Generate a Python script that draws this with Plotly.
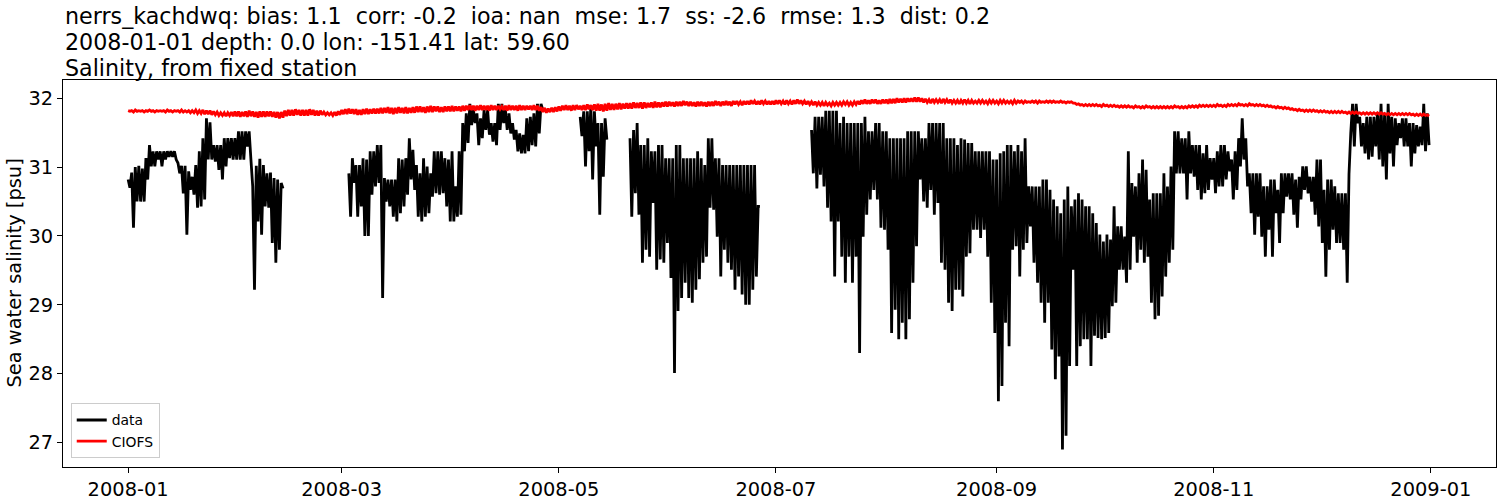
import pandas as pd
import plotly.graph_objects as go

N = None
title_lines = [
    "nerrs_kachdwq: bias: 1.1  corr: -0.2  ioa: nan  mse: 1.7  ss: -2.6  rmse: 1.3  dist: 0.2",
    "2008-01-01 depth: 0.0 lon: -151.41 lat: 59.60",
    "Salinity, from fixed station",
]
y_label = "Sea water salinity [psu]"
series_names = ["data", "CIOFS"]
start_date = "2008-01-01"
x_ticks = ["2008-01-01", "2008-03-01", "2008-05-01", "2008-07-01", "2008-09-01", "2008-11-01", "2009-01-01"]
y_ticks = [27, 28, 29, 30, 31, 32]

# observed salinity: daily first / second reading (None = no data)
data_hi = [
    30.82, 30.92, 31.00, 31.02, 30.98, 31.13, 31.32, 31.23, 31.23, 31.23,
    31.23, 31.23, 31.23, 31.23, 31.06, 31.02, 31.02, 30.94, 30.86, 31.03,
    31.23, 31.42, 31.71, 31.65, 31.32, 31.32, 31.32, 31.42, 31.42, 31.42,
    31.42, 31.52, 31.52, 31.52, 31.52, 30.72, 31.02, 31.12, 31.03, 30.91,
    30.92, 30.84, 30.82, 30.77, N, N, N, N, N, N,
    N, N, N, N, N, N, N, N, N, N,
    N, N, 30.91, 31.13, 31.03, 31.03, 31.13, 31.11, 31.23, 31.23,
    31.32, 31.32, 30.84, 30.82, 30.82, 30.82, 31.13, 31.11, 31.13, 31.42,
    31.25, 31.03, 30.91, 31.13, 31.01, 30.91, 31.23, 31.23, 31.23, 31.13,
    31.11, 31.23, 30.72, 31.23, 31.64, 31.78, 31.92, 31.83, 31.78, 31.71,
    31.83, 31.83, 31.64, 31.64, 31.92, 31.92, 31.83, 31.78, 31.64, 31.54,
    31.49, 31.47, 31.71, 31.73, 31.78, 31.92, 31.92, N, N, N,
    N, N, N, N, N, N, N, 31.73, 31.81, 31.81,
    31.90, 31.81, 31.64, 31.64, 31.71, N, N, N, N, N,
    N, 31.42, 31.54, 31.64, 31.32, 31.32, 31.42, 31.23, 31.23, 31.32,
    31.32, 31.13, 31.13, 31.13, 31.32, 31.32, 31.13, 31.13, 31.13, 31.13,
    31.23, 31.13, 31.03, 31.42, 31.42, 31.13, 31.13, 31.03, 31.03, 31.03,
    31.03, 31.03, 31.03, 31.03, 31.03, 31.03, 31.03, 30.43, N, N,
    N, N, N, N, N, N, N, N, N, N,
    N, N, 31.54, 31.73, 31.73, 31.73, 31.82, 31.82, 31.82, 31.82,
    31.64, 31.73, 31.64, 31.64, 31.64, 31.64, 31.64, 31.73, 31.52, 31.52,
    31.64, 31.64, 31.52, 31.52, 31.42, 31.42, 31.42, 31.42, 31.42, 31.52,
    31.52, 31.52, 31.52, 31.42, 31.42, 31.64, 31.64, 31.64, 31.64, 31.64,
    31.42, 31.42, 31.42, 31.32, 31.42, 31.40, 31.35, 31.35, 31.23, 31.23,
    31.23, 31.23, 31.23, 31.11, 31.11, 31.20, 31.23, 31.32, 31.32, 31.23,
    31.32, 31.23, 31.42, 30.72, 30.72, 30.72, 30.72, 30.82, 30.82, 30.67,
    30.53, 30.43, 30.33, 30.53, 30.72, 30.43, 30.53, 30.62, 30.53, 30.43,
    30.43, 30.33, 30.19, 30.02, 29.92, 30.02, 29.95, 30.43, 30.14, 30.14,
    29.99, 31.23, 30.77, 30.72, 30.91, 31.11, 30.96, 30.53, 30.62, 30.62,
    30.62, 30.91, 30.72, 31.01, 31.52, 31.52, 31.42, 31.42, 31.52, 31.32,
    31.32, 31.32, 31.20, 31.32, 31.13, 31.13, 31.23, 31.32, 31.32, 31.23,
    31.11, 31.23, 31.42, 31.71, 31.42, 30.91, 30.91, 30.91, 30.91, 30.72,
    30.72, 30.82, 30.82, 30.67, 30.91, 30.91, 30.91, 30.91, 30.82, 30.86,
    31.01, 31.01, 30.86, 30.86, 31.11, 31.11, 30.67, 30.82, 30.82, 30.72,
    30.62, 30.62, 30.62, 30.90, 31.92, 31.92, 31.73, 31.64, 31.73, 31.73,
    31.73, 31.78, 31.92, 31.78, 31.92, 31.73, 31.71, 31.64, 31.71, 31.71,
    31.64, 31.64, 31.61, 31.59, 31.92, 31.78,
]
data_lo = [
    30.70, 30.12, 30.50, 30.50, 30.50, 30.82, 31.01, 31.01, 31.11, 31.01,
    31.11, 31.15, 31.15, 31.11, 30.91, 30.62, 30.02, 30.67, 30.60, 30.41,
    30.43, 30.53, 31.11, 31.11, 31.08, 30.96, 30.82, 31.01, 31.13, 31.11,
    31.11, 31.11, 31.11, 31.30, 31.11, 29.22, 30.21, 30.02, 30.43, 30.41,
    29.90, 29.61, 29.80, 30.69, N, N, N, N, N, N,
    N, N, N, N, N, N, N, N, N, N,
    N, N, 30.28, 30.77, 30.28, 30.43, 30.00, 30.00, 30.60, 30.72,
    30.77, 29.10, 30.50, 30.43, 30.28, 30.21, 30.33, 30.43, 30.60, 30.82,
    30.67, 30.28, 30.21, 30.28, 30.33, 30.57, 30.62, 30.60, 30.62, 30.43,
    30.21, 30.21, 30.28, 30.31, 31.23, 31.35, 31.61, 31.64, 31.32, 31.42,
    31.54, 31.47, 31.37, 31.32, 31.54, 31.64, 31.54, 31.49, 31.40, 31.23,
    31.20, 31.20, 31.23, 31.32, 31.30, 31.49, 31.83, N, N, N,
    N, N, N, N, N, N, N, 31.45, 31.01, 31.23,
    30.82, 31.30, 30.31, 30.86, 31.40, N, N, N, N, N,
    N, 30.28, 30.62, 30.31, 29.61, 29.80, 29.70, 30.48, 29.51, 29.66,
    29.61, 29.90, 29.39, 28.01, 28.91, 29.10, 29.32, 29.10, 29.03, 29.22,
    29.37, 29.61, 29.70, 30.41, 30.38, 29.99, 29.41, 29.80, 29.61, 29.51,
    29.22, 29.41, 29.15, 29.00, 29.00, 29.22, 29.41, 30.43, N, N,
    N, N, N, N, N, N, N, N, N, N,
    N, N, 30.91, 30.69, 30.89, 30.72, 30.41, 30.21, 29.41, 30.21,
    29.70, 29.32, 29.70, 29.32, 29.70, 28.30, 29.99, 30.31, 30.53, 30.67,
    30.53, 30.12, 30.09, 29.80, 28.59, 28.93, 28.50, 28.74, 28.50, 28.79,
    29.32, 29.85, 30.82, 30.50, 30.41, 30.67, 30.31, 30.48, 29.61, 29.51,
    29.03, 28.91, 29.22, 29.22, 29.12, 29.70, 29.75, 30.09, 30.09, 29.97,
    30.09, 29.70, 29.03, 28.59, 27.60, 27.82, 28.74, 28.40, 29.80, 29.85,
    29.41, 29.80, 29.90, 30.14, 29.61, 29.32, 29.03, 28.74, 29.03, 28.35,
    27.92, 28.25, 26.90, 27.10, 28.11, 29.51, 28.11, 28.40, 28.50, 28.50,
    28.11, 28.55, 28.52, 28.50, 28.52, 28.59, 28.98, 29.03, 29.51, 29.51,
    29.32, 29.51, 29.99, 29.61, 29.80, 29.61, 29.70, 29.03, 28.79, 28.84,
    29.12, 29.41, 29.61, 29.80, 30.91, 30.91, 30.91, 30.53, 30.91, 30.86,
    30.67, 30.53, 30.62, 30.67, 30.82, 30.62, 30.72, 30.72, 30.82, 30.94,
    30.53, 30.67, 31.01, 31.11, 30.72, 30.33, 30.02, 30.28, 29.99, 29.70,
    30.09, 29.70, 30.33, 29.90, 30.33, 30.57, 30.53, 30.31, 30.12, 30.53,
    30.67, 30.62, 30.50, 30.31, 30.14, 29.90, 29.41, 29.80, 30.09, 29.90,
    29.90, 29.80, 29.32, 31.50, 31.30, 31.64, 31.30, 31.20, 31.11, 31.15,
    31.30, 31.11, 31.01, 30.82, 31.20, 31.01, 31.32, 31.42, 31.30, 31.30,
    31.01, 31.20, 31.30, 31.32, 31.23, 31.32,
]

# CIOFS model: daily first / second reading
ciofs_hi = [
    31.82, 31.82, 31.83, 31.82, 31.82, 31.82, 31.83, 31.82, 31.82, 31.82,
    31.82, 31.83, 31.82, 31.82, 31.82, 31.83, 31.82, 31.82, 31.82, 31.83,
    31.82, 31.83, 31.82, 31.82, 31.81, 31.80, 31.79, 31.79, 31.79, 31.80,
    31.81, 31.81, 31.80, 31.81, 31.82, 31.81, 31.80, 31.81, 31.81, 31.81,
    31.81, 31.80, 31.80, 31.80, 31.82, 31.83, 31.83, 31.84, 31.83, 31.83,
    31.83, 31.84, 31.83, 31.82, 31.82, 31.80, 31.79, 31.79, 31.80, 31.81,
    31.83, 31.84, 31.85, 31.84, 31.84, 31.83, 31.84, 31.85, 31.84, 31.85,
    31.85, 31.86, 31.86, 31.87, 31.86, 31.86, 31.87, 31.86, 31.87, 31.86,
    31.87, 31.88, 31.88, 31.87, 31.88, 31.89, 31.88, 31.88, 31.87, 31.88,
    31.88, 31.89, 31.88, 31.88, 31.89, 31.89, 31.90, 31.89, 31.89, 31.90,
    31.89, 31.89, 31.90, 31.89, 31.89, 31.88, 31.89, 31.90, 31.89, 31.89,
    31.90, 31.89, 31.89, 31.89, 31.90, 31.89, 31.87, 31.86, 31.85, 31.86,
    31.87, 31.88, 31.89, 31.90, 31.89, 31.90, 31.90, 31.89, 31.90, 31.91,
    31.90, 31.91, 31.92, 31.91, 31.92, 31.93, 31.92, 31.92, 31.93, 31.92,
    31.93, 31.93, 31.94, 31.93, 31.94, 31.94, 31.93, 31.94, 31.95, 31.94,
    31.94, 31.95, 31.95, 31.94, 31.95, 31.95, 31.96, 31.95, 31.95, 31.94,
    31.95, 31.95, 31.94, 31.95, 31.95, 31.96, 31.95, 31.95, 31.96, 31.95,
    31.96, 31.96, 31.95, 31.96, 31.96, 31.97, 31.96, 31.96, 31.97, 31.96,
    31.96, 31.96, 31.97, 31.97, 31.96, 31.97, 31.96, 31.97, 31.98, 31.97,
    31.96, 31.96, 31.95, 31.95, 31.94, 31.94, 31.94, 31.93, 31.94, 31.94,
    31.94, 31.95, 31.95, 31.94, 31.95, 31.96, 31.97, 31.98, 31.97, 31.98,
    31.98, 31.97, 31.98, 31.98, 31.99, 31.99, 32.00, 31.99, 32.00, 32.00,
    32.00, 32.01, 32.01, 32.00, 31.99, 31.98, 31.99, 31.98, 31.98, 31.99,
    31.98, 31.98, 31.97, 31.97, 31.97, 31.98, 31.97, 31.97, 31.96, 31.97,
    31.97, 31.96, 31.97, 31.97, 31.96, 31.97, 31.97, 31.96, 31.96, 31.97,
    31.96, 31.96, 31.96, 31.95, 31.96, 31.96, 31.96, 31.95, 31.96, 31.96,
    31.96, 31.95, 31.96, 31.95, 31.95, 31.95, 31.93, 31.92, 31.91, 31.91,
    31.91, 31.91, 31.91, 31.90, 31.91, 31.90, 31.90, 31.90, 31.89, 31.89,
    31.89, 31.89, 31.88, 31.89, 31.88, 31.88, 31.89, 31.88, 31.88, 31.88,
    31.88, 31.88, 31.88, 31.88, 31.89, 31.88, 31.88, 31.88, 31.89, 31.89,
    31.89, 31.90, 31.90, 31.90, 31.90, 31.90, 31.91, 31.90, 31.90, 31.91,
    31.91, 31.91, 31.92, 31.91, 31.91, 31.92, 31.91, 31.91, 31.91, 31.90,
    31.90, 31.89, 31.88, 31.88, 31.87, 31.87, 31.86, 31.85, 31.84, 31.84,
    31.83, 31.83, 31.83, 31.83, 31.82, 31.82, 31.82, 31.81, 31.81, 31.81,
    31.81, 31.81, 31.80, 31.80, 31.80, 31.80, 31.79, 31.79, 31.79, 31.79,
    31.79, 31.79, 31.79, 31.78, 31.78, 31.78, 31.78, 31.78, 31.78, 31.78,
    31.78, 31.77, 31.77, 31.77, 31.77, 31.76,
]
ciofs_lo = [
    31.81, 31.80, 31.81, 31.81, 31.80, 31.81, 31.81, 31.80, 31.81, 31.81,
    31.80, 31.81, 31.80, 31.81, 31.80, 31.80, 31.80, 31.79, 31.79, 31.78,
    31.78, 31.77, 31.77, 31.76, 31.76, 31.75, 31.75, 31.74, 31.75, 31.74,
    31.74, 31.73, 31.74, 31.73, 31.74, 31.73, 31.72, 31.73, 31.73, 31.74,
    31.73, 31.72, 31.71, 31.72, 31.74, 31.75, 31.75, 31.76, 31.75, 31.75,
    31.75, 31.76, 31.75, 31.75, 31.76, 31.76, 31.76, 31.75, 31.75, 31.76,
    31.77, 31.77, 31.78, 31.77, 31.76, 31.76, 31.77, 31.77, 31.78, 31.78,
    31.78, 31.78, 31.79, 31.78, 31.77, 31.78, 31.79, 31.78, 31.78, 31.79,
    31.79, 31.80, 31.80, 31.79, 31.80, 31.80, 31.81, 31.80, 31.80, 31.81,
    31.81, 31.81, 31.82, 31.81, 31.82, 31.83, 31.83, 31.82, 31.83, 31.83,
    31.83, 31.82, 31.83, 31.83, 31.84, 31.83, 31.82, 31.83, 31.83, 31.82,
    31.83, 31.83, 31.84, 31.83, 31.83, 31.82, 31.80, 31.79, 31.80, 31.80,
    31.81, 31.82, 31.83, 31.83, 31.82, 31.83, 31.84, 31.83, 31.83, 31.84,
    31.83, 31.82, 31.82, 31.81, 31.82, 31.83, 31.83, 31.84, 31.84, 31.85,
    31.85, 31.85, 31.86, 31.86, 31.85, 31.86, 31.87, 31.86, 31.87, 31.87,
    31.88, 31.88, 31.89, 31.88, 31.89, 31.89, 31.90, 31.89, 31.89, 31.88,
    31.89, 31.89, 31.88, 31.89, 31.89, 31.90, 31.89, 31.90, 31.90, 31.89,
    31.91, 31.91, 31.90, 31.91, 31.91, 31.92, 31.91, 31.91, 31.92, 31.91,
    31.91, 31.91, 31.92, 31.92, 31.91, 31.92, 31.91, 31.92, 31.92, 31.92,
    31.91, 31.91, 31.90, 31.90, 31.90, 31.89, 31.90, 31.89, 31.90, 31.90,
    31.90, 31.91, 31.90, 31.90, 31.91, 31.91, 31.92, 31.92, 31.92, 31.93,
    31.92, 31.92, 31.93, 31.92, 31.93, 31.93, 31.94, 31.94, 31.94, 31.95,
    31.95, 31.95, 31.95, 31.94, 31.94, 31.93, 31.94, 31.94, 31.93, 31.94,
    31.93, 31.93, 31.93, 31.92, 31.93, 31.93, 31.92, 31.93, 31.93, 31.93,
    31.93, 31.92, 31.93, 31.93, 31.92, 31.93, 31.93, 31.93, 31.92, 31.93,
    31.94, 31.93, 31.94, 31.94, 31.94, 31.93, 31.94, 31.94, 31.94, 31.94,
    31.94, 31.94, 31.94, 31.93, 31.94, 31.93, 31.91, 31.90, 31.89, 31.89,
    31.89, 31.89, 31.89, 31.88, 31.89, 31.88, 31.88, 31.88, 31.87, 31.87,
    31.87, 31.87, 31.86, 31.87, 31.86, 31.86, 31.87, 31.86, 31.86, 31.86,
    31.86, 31.86, 31.86, 31.86, 31.87, 31.86, 31.86, 31.86, 31.87, 31.87,
    31.87, 31.88, 31.88, 31.88, 31.88, 31.88, 31.89, 31.88, 31.88, 31.89,
    31.89, 31.89, 31.90, 31.89, 31.89, 31.90, 31.89, 31.89, 31.89, 31.88,
    31.88, 31.87, 31.86, 31.86, 31.85, 31.85, 31.84, 31.83, 31.82, 31.82,
    31.81, 31.81, 31.81, 31.81, 31.80, 31.80, 31.80, 31.79, 31.79, 31.79,
    31.79, 31.79, 31.78, 31.78, 31.78, 31.78, 31.77, 31.77, 31.77, 31.77,
    31.77, 31.77, 31.77, 31.76, 31.76, 31.76, 31.76, 31.76, 31.76, 31.76,
    31.76, 31.75, 31.75, 31.75, 31.75, 31.74,
]


def build_series(first, second):
    base = pd.Timestamp(start_date)
    xs, ys = [], []
    for d, (a, b) in enumerate(zip(first, second)):
        if a is None:
            if ys and ys[-1] is not None:
                xs.append(base + pd.Timedelta(days=d))
                ys.append(None)
            continue
        xs.append(base + pd.Timedelta(days=d))
        ys.append(a)
        xs.append(base + pd.Timedelta(days=d, hours=12))
        ys.append(b)
    return xs, ys


dx, dy = build_series(data_hi, data_lo)
mx, my = build_series(ciofs_hi, ciofs_lo)

fig = go.Figure()
fig.add_trace(go.Scatter(x=dx, y=dy, mode="lines", name=series_names[0],
                         line=dict(color="black", width=2.8, simplify=False),
                         connectgaps=False))
fig.add_trace(go.Scatter(x=mx, y=my, mode="lines", name=series_names[1],
                         line=dict(color="red", width=2.8, simplify=False)))

# axis limits with 5% padding like matplotlib autoscale
all_y = [v for v in dy + my if v is not None]
ymin, ymax = min(all_y), max(all_y)
pad = 0.05 * (ymax - ymin)
x0 = pd.Timestamp(x_ticks[0])
x1 = pd.Timestamp(x_ticks[-1])
xpad = (x1 - x0) * 0.05

FONT = "DejaVu Sans"
fig.update_layout(
    width=1500, height=500,
    margin=dict(l=63, r=4, t=80, b=33),
    paper_bgcolor="white", plot_bgcolor="white",
    font=dict(family=FONT, color="black", size=19.4),
    showlegend=True,
    legend=dict(x=0.0054, y=0.022, xanchor="left", yanchor="bottom",
                bgcolor="rgba(255,255,255,0.8)", bordercolor="#cccccc", borderwidth=1,
                font=dict(family=FONT, size=13.9, color="black"),
                itemwidth=30, tracegroupgap=0),
    xaxis=dict(range=[x0 - xpad, x1 + xpad], tickvals=x_ticks, tickformat="%Y-%m",
               showgrid=False, zeroline=False, showline=True, mirror=True,
               linecolor="black", linewidth=1.1, ticks="outside", ticklen=5,
               tickwidth=1.1, tickcolor="black", tickfont=dict(size=19.4),
               automargin=False),
    yaxis=dict(range=[ymin - pad, ymax + pad], tickvals=y_ticks,
               showgrid=False, zeroline=False, showline=True, mirror=True,
               linecolor="black", linewidth=1.1, ticks="outside", ticklen=5,
               tickwidth=1.1, tickcolor="black", tickfont=dict(size=19.4),
               automargin=False),
)

title_y_px = [16, 42, 68]
plot_h = 500 - 80 - 33
for line, ypx in zip(title_lines, title_y_px):
    fig.add_annotation(text=line, xref="paper", yref="paper", x=0, xanchor="left",
                       y=(500 - 33 - ypx) / plot_h, yanchor="middle", showarrow=False,
                       font=dict(family=FONT, size=22.2, color="black"))

fig.add_annotation(text=y_label, xref="paper", yref="paper", x=(14 - 63) / 1433, y=0.5,
                   xanchor="center", yanchor="middle", textangle=-90, showarrow=False,
                   font=dict(family=FONT, size=19.4, color="black"))

fig.write_html("out.html", config={"displayModeBar": False},
               post_script="document.body.style.margin='0';")
